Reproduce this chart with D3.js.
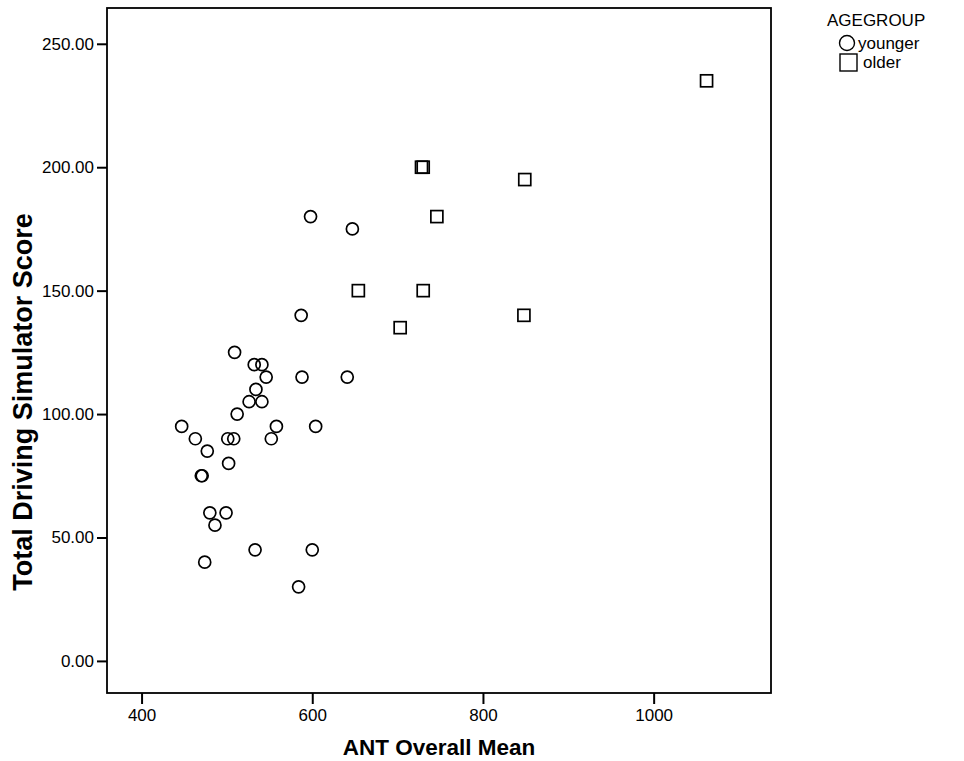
<!DOCTYPE html>
<html>
<head>
<meta charset="utf-8">
<script src="https://cdn.jsdelivr.net/npm/d3@7"></script>
<style>
  body { margin: 0; background: #fff; }
  text { font-family: "Liberation Sans", Arial, sans-serif; fill: #000; }
</style>
</head>
<body>
<div id="main-container"></div>
<script>
// Data
const youngerAnt = [447, 463, 477, 470, 471, 480, 486, 499, 474, 501, 508, 502, 509, 512, 526, 532, 541, 534, 546, 541, 552, 558, 533, 587, 588, 598, 647, 641, 604, 600, 584];
const youngerScore = [95, 90, 85, 75, 75, 60, 55, 60, 40, 90, 90, 80, 125, 100, 105, 120, 120, 110, 115, 105, 90, 95, 45, 140, 115, 180, 175, 115, 95, 45, 30];
const olderAnt = [728, 730, 746, 849, 1062, 654, 730, 703, 848];
const olderScore = [200, 200, 180, 195, 235, 150, 150, 135, 140];

const xTicks = [400, 600, 800, 1000];
const yTicks = [0, 50, 100, 150, 200, 250];
const groups = ['younger', 'older'];

const X_TITLE = 'ANT Overall Mean';
const Y_TITLE = 'Total Driving Simulator Score';
const LEGEND_TITLE = 'AGEGROUP';

const WIDTH = 964;
const HEIGHT = 761;
const FRAME = { left: 107, right: 771, top: 8, bottom: 693 };

const SVG = d3.select('#main-container').append('svg')
    .attr('width', WIDTH)
    .attr('height', HEIGHT);

const x = d3.scaleLinear()
    .domain([359.5, 1137.5])
    .range([FRAME.left, FRAME.right]);

const y = d3.scaleLinear()
    .domain([-13, 264.5])
    .range([FRAME.bottom, FRAME.top]);

// Axes
const yAxis = SVG.append('g')
    .attr('transform', `translate(${FRAME.left}, 0)`)
    .call(d3.axisLeft(y).tickValues(yTicks).tickFormat(d3.format('.2f')).tickSize(10).tickPadding(3));

const xAxis = SVG.append('g')
    .attr('transform', `translate(0, ${FRAME.bottom})`)
    .call(d3.axisBottom(x).tickValues(xTicks).tickFormat(d3.format('d')).tickSize(11).tickPadding(5));

[xAxis, yAxis].forEach(a => {
    a.select('.domain').remove();
    a.selectAll('line').attr('stroke', '#000').attr('stroke-width', 2);
    a.selectAll('text').style('font-size', '17px').attr('fill', '#000');
});

// Frame
SVG.append('rect')
    .attr('x', FRAME.left)
    .attr('y', FRAME.top)
    .attr('width', FRAME.right - FRAME.left)
    .attr('height', FRAME.bottom - FRAME.top)
    .attr('fill', 'none')
    .attr('stroke', '#000')
    .attr('stroke-width', 1.8);

// Titles
SVG.append('text')
    .attr('x', (FRAME.left + FRAME.right) / 2)
    .attr('y', 755)
    .attr('text-anchor', 'middle')
    .style('font-size', '22.5px')
    .style('font-weight', 'bold')
    .text(X_TITLE);

SVG.append('text')
    .attr('transform', 'translate(32, 402) rotate(-90)')
    .attr('text-anchor', 'middle')
    .style('font-size', '27px')
    .style('font-weight', 'bold')
    .text(Y_TITLE);

// Points
const younger = youngerAnt.map((d, i) => ({ ant: d, score: youngerScore[i] }));
const older = olderAnt.map((d, i) => ({ ant: d, score: olderScore[i] }));

SVG.append('g')
    .selectAll('circle')
    .data(younger)
    .enter()
    .append('circle')
    .attr('cx', d => x(d.ant))
    .attr('cy', d => y(d.score))
    .attr('r', 6)
    .attr('fill', 'none')
    .attr('stroke', '#000')
    .attr('stroke-width', 1.7);

const SQ = 12;
SVG.append('g')
    .selectAll('rect')
    .data(older)
    .enter()
    .append('rect')
    .attr('x', d => x(d.ant) - SQ / 2)
    .attr('y', d => y(d.score) - SQ / 2)
    .attr('width', SQ)
    .attr('height', SQ)
    .attr('fill', 'none')
    .attr('stroke', '#000')
    .attr('stroke-width', 1.7);

// Legend
const LEGEND = SVG.append('g').attr('transform', 'translate(827, 0)');
LEGEND.append('text')
    .attr('x', 0)
    .attr('y', 26)
    .style('font-size', '17px')
    .text(LEGEND_TITLE);

const legendRows = LEGEND.selectAll('g.row')
    .data(groups)
    .enter()
    .append('g')
    .attr('class', 'row')
    .attr('transform', (d, i) => `translate(0, ${43 + i * 19})`);

legendRows.filter(d => d === 'younger').append('circle')
    .attr('cx', 20).attr('cy', 0).attr('r', 7.5)
    .attr('fill', 'none').attr('stroke', '#000').attr('stroke-width', 1.4);
legendRows.filter(d => d === 'older').append('rect')
    .attr('x', 13).attr('y', -8).attr('width', 17).attr('height', 17)
    .attr('fill', 'none').attr('stroke', '#000').attr('stroke-width', 1.4);

legendRows.append('text')
    .attr('x', (d, i) => i === 0 ? 31 : 36)
    .attr('y', 6)
    .style('font-size', '17px')
    .text(d => d);
</script>
</body>
</html>
